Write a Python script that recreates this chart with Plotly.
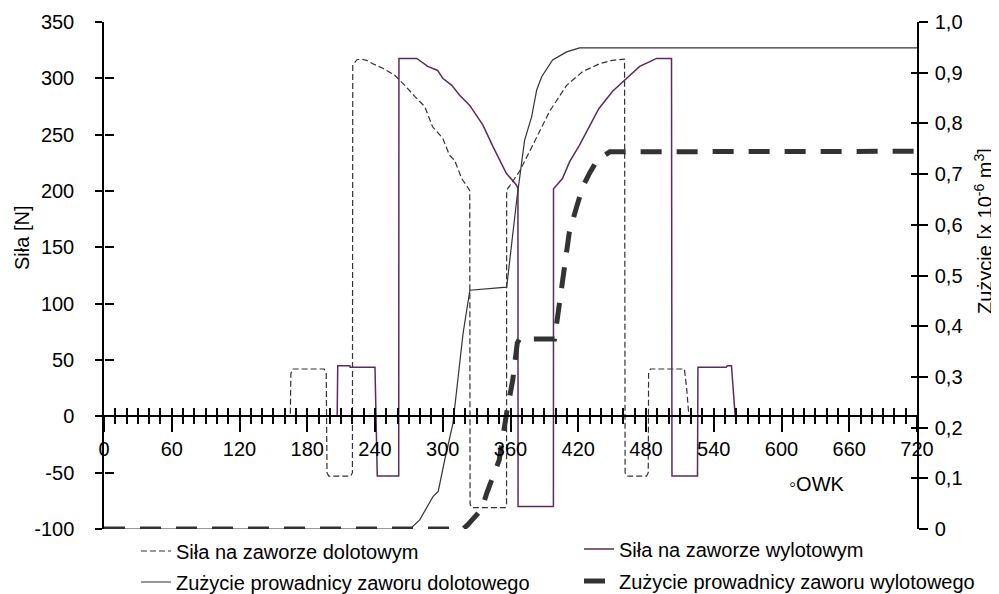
import plotly.graph_objects as go

# ---- data ----
inlet_force_deg = [0, 165, 165.5, 167, 195, 196.8, 197.5, 199, 218.5, 220, 220.3, 224, 228.3, 232.7,
                   238, 246.9, 257.5, 266.4, 275.2, 284, 291, 300, 306, 310.6, 316.8, 323.9, 324.2,
                   325.5, 355.5, 356.5, 356.6, 368, 379.6, 394.6, 409.7, 423.9, 439, 450.4, 461,
                   461.5, 463, 480.5, 482, 482.3, 484, 514, 516, 518, 720]
inlet_force_N = [0, 0, 38, 42, 42, 38, -50, -53, -53, -50, 312, 316.5, 317, 316,
                 313, 309, 302.7, 293.8, 284, 275, 257, 246.7, 231.7, 227, 211, 200.6, -78,
                 -81, -81, -78, 200.6, 217.5, 240.5, 270.7, 293.8, 306, 313, 316, 317,
                 -50, -53, -53, -50, 38, 42, 42, 25, 0, 0]

exhaust_force_deg = [0, 206.5, 207, 217.7, 218, 240, 242, 261, 261.2, 276, 277, 286.7, 295.5, 300,
                     308, 315, 323.9, 335.6, 344.5, 356.3, 365.2, 366.6, 366.7, 398, 398.1, 406,
                     412.4, 421, 427.4, 438.2, 450.4, 462.8, 474.4, 485.8, 489.3, 502.6, 503,
                     525.6, 526, 551, 552, 555.7, 559, 720]
exhaust_force_N = [0, 0, 45, 45, 43.5, 43.5, -53, -53, 317.7, 317.7, 317.7, 310.6, 307, 300,
                   293.8, 285, 276, 258.5, 239.4, 215.7, 205.3, 202.4, -80, -80, 202, 211,
                   226, 240.5, 253, 273, 288.5, 300, 310.6, 316, 317.7, 317.7, -53,
                   -53, 43.5, 43.5, 45, 45, 0, 0]

inlet_wear_deg = [0, 265, 272, 279.6, 291.4, 296, 301.7, 309, 318, 324, 356.6, 365.5, 372.5,
                  378.7, 383.2, 387.6, 397.3, 409.7, 421.2, 720]
inlet_wear_val = [0, 0, 0.002, 0.018, 0.064, 0.074, 0.136, 0.208, 0.386, 0.471, 0.477, 0.649, 0.767,
                  0.813, 0.866, 0.892, 0.925, 0.941, 0.949, 0.949]

exhaust_wear_deg = [0, 318, 322, 334.5, 339, 345, 350, 356.6, 362, 366, 368, 399, 405, 408, 412,
                    418.5, 424, 430, 437, 448, 720]
exhaust_wear_val = [0, 0, 0.008, 0.039, 0.071, 0.107, 0.136, 0.229, 0.294, 0.367, 0.375, 0.375,
                    0.471, 0.517, 0.584, 0.635, 0.675, 0.702, 0.728, 0.744, 0.745]

x_ticks = list(range(0, 721, 60))
left_ticks = list(range(-100, 351, 50))
left_ticktext = [str(v) for v in left_ticks]
right_ticks = [i / 10 for i in range(0, 11)]
right_ticktext = ["0", "0,1", "0,2", "0,3", "0,4", "0,5", "0,6", "0,7", "0,8", "0,9", "1,0"]

names = ["Siła na zaworze dolotowym", "Siła na zaworze wylotowym",
         "Zużycie prowadnicy zaworu dolotowego", "Zużycie prowadnicy zaworu wylotowego"]

FONT = "Liberation Sans, Arial, sans-serif"
DARK = "#333333"
PURPLE = "#5e2a5e"

fig = go.Figure()
fig.add_trace(go.Scatter(x=exhaust_wear_deg, y=exhaust_wear_val, yaxis="y2", mode="lines",
                         name=names[3], legend="legend4",
                         line=dict(color=DARK, width=5, dash="21px,15px")))
fig.add_trace(go.Scatter(x=inlet_wear_deg, y=inlet_wear_val, yaxis="y2", mode="lines",
                         name=names[2], legend="legend3",
                         line=dict(color=DARK, width=1.2)))
fig.add_trace(go.Scatter(x=inlet_force_deg, y=inlet_force_N, mode="lines",
                         name=names[0], legend="legend",
                         line=dict(color=DARK, width=1.2, dash="6px,3px")))
fig.add_trace(go.Scatter(x=exhaust_force_deg, y=exhaust_force_N, mode="lines",
                         name=names[1], legend="legend2",
                         line=dict(color=PURPLE, width=1.5)))

# helper (empty) traces so the overlay axes that carry the inner half of the crossing ticks are drawn
for xa, ya in [("x2", "y"), ("x", "y3"), ("x", "y4")]:
    fig.add_trace(go.Scatter(x=[None], y=[None], xaxis=xa, yaxis=ya, mode="lines",
                             showlegend=False, hoverinfo="skip"))

# page body has an 8px margin: screen coords = figure coords + 8
OFF = 8
FW, FH = 999 - OFF, 594 - OFF
PL, PR, PT, PB = 104, 917, 22, 529  # plot area in screen pixels
L, R, T, B = PL - OFF, FW - (PR - OFF), PT - OFF, FH - (PB - OFF)
PW, PH = PR - PL, PB - PT


def px(xs):
    return (xs - PL) / PW


def py(ys):
    return (PB - ys) / PH


zero_pos = 100 / 450

axis_common = dict(showgrid=False, zeroline=False, tickcolor="black", tickwidth=1.5)

fig.update_layout(
    width=FW, height=FH,
    margin=dict(l=L, r=R, t=T, b=B, autoexpand=False),
    paper_bgcolor="white", plot_bgcolor="white",
    font=dict(family=FONT, size=20, color="black"),
    xaxis=dict(range=[0, 720], anchor="free", position=zero_pos, tickvals=x_ticks,
               ticks="outside", ticklen=15, showline=True, linecolor="black", linewidth=1.5,
               minor=dict(dtick=10, tick0=0, ticks="outside", ticklen=7, tickwidth=1.5,
                          tickcolor="black"),
               ticklabelstandoff=0, **axis_common),
    xaxis2=dict(range=[0, 720], overlaying="x", anchor="free", position=zero_pos, side="bottom",
                dtick=10, tick0=0, ticks="inside", ticklen=8, showticklabels=False,
                showline=False, **axis_common),
    yaxis=dict(range=[-100, 350], tickvals=left_ticks, ticktext=left_ticktext,
               ticks="outside", ticklen=7, showline=True, linecolor="black", linewidth=1.5,
               ticklabelstandoff=17, **axis_common),
    yaxis3=dict(range=[-100, 350], overlaying="y", anchor="free", position=0, side="left",
                tickvals=left_ticks, ticks="inside", ticklen=9, showticklabels=False,
                showline=False, **axis_common),
    yaxis2=dict(range=[0, 1], overlaying="y", side="right", anchor="x", tickvals=right_ticks,
                ticktext=right_ticktext, ticks="outside", ticklen=9, showline=True,
                linecolor="black", linewidth=1.5, ticklabelstandoff=3, **axis_common),
    yaxis4=dict(range=[0, 1], overlaying="y", anchor="free", position=1, side="right",
                tickvals=right_ticks, ticks="inside", ticklen=6, showticklabels=False,
                showline=False, **axis_common),
    showlegend=True,
)

leg = dict(bgcolor="rgba(0,0,0,0)", borderwidth=0, font=dict(family=FONT, size=20, color="black"),
           xanchor="left", yanchor="middle", orientation="v")
fig.update_layout(
    legend=dict(x=px(136), y=py(551), **leg),
    legend2=dict(x=px(579), y=py(549), **leg),
    legend3=dict(x=px(136), y=py(582), **leg),
    legend4=dict(x=px(579), y=py(581), **leg),
)

ann = dict(xref="paper", yref="paper", showarrow=False, xanchor="center", yanchor="middle",
           font=dict(size=20))
fig.add_annotation(text="Siła [N]", x=px(22), y=py(238), textangle=-90, **ann)
fig.add_annotation(text="Zużycie [x 10<sup>-6</sup> m<sup>3</sup>]", x=px(983), y=py(231),
                   textangle=-90, **ann)
fig.add_annotation(text="◦OWK", x=px(817), y=py(484), **ann)

fig.write_html("out.html")
